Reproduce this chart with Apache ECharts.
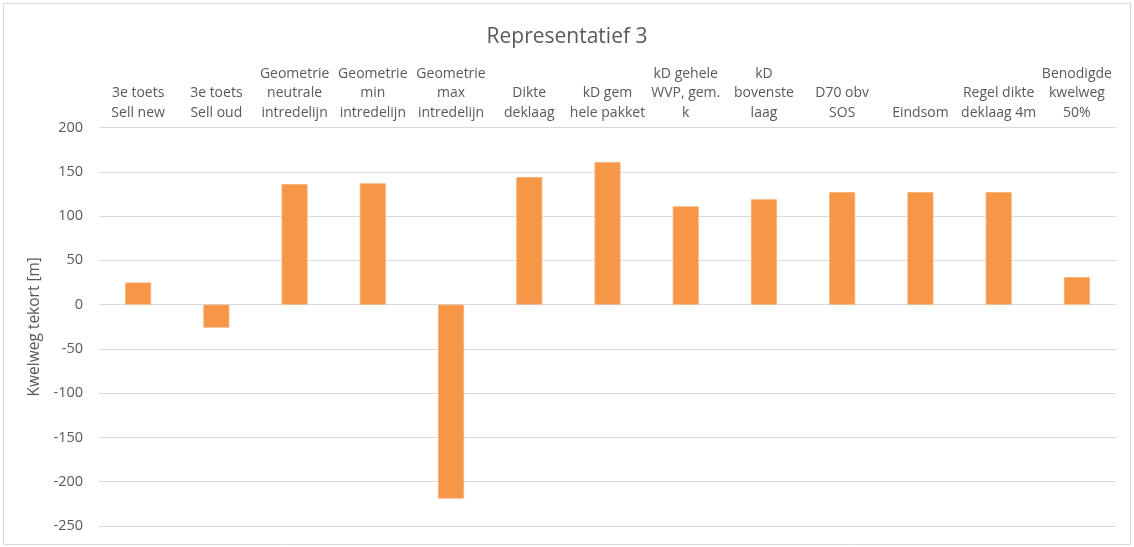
<!DOCTYPE html>
<html>
<head>
<meta charset="utf-8">
<script src="https://cdn.jsdelivr.net/npm/echarts@6/dist/echarts.min.js"></script>
<style>
  html, body { margin: 0; padding: 0; background: #fff; }
  #chart { width: 1134px; height: 547px; }
</style>
</head>
<body>
<div id="chart"></div>
<script>
// Categories (line breaks as shown in the axis labels)
const categories = [
  '3e toets\nSell new',
  '3e toets\nSell oud',
  'Geometrie\nneutrale\nintredelijn',
  'Geometrie\nmin\nintredelijn',
  'Geometrie\nmax\nintredelijn',
  'Dikte\ndeklaag',
  'kD gem\nhele pakket',
  'kD gehele\nWVP, gem.\nk',
  'kD\nbovenste\nlaag',
  'D70 obv\nSOS',
  'Eindsom',
  'Regel dikte\ndeklaag 4m',
  'Benodigde\nkwelweg\n50%'
];

// Kwelweg tekort per variant [m]
const tekort = [25, -26, 136, 137, -219, 144, 161, 111, 119, 127, 127, 127, 31];

const titleText = 'Representatief 3';
const yAxisName = 'Kwelweg tekort [m]';

const textColor = '#595959';
const fontFamily = '"Open Sans", "Noto Sans", sans-serif';

const chart = echarts.init(document.getElementById('chart'), null, { renderer: 'canvas' });

chart.setOption({
  animation: false,
  backgroundColor: '#ffffff',
  title: {
    text: titleText,
    left: 'center',
    top: 22,
    textStyle: { color: textColor, fontFamily, fontSize: 21, fontWeight: 'normal' }
  },
  graphic: [{
    type: 'rect',
    shape: { x: 3.5, y: 3.5, width: 1127, height: 541 },
    style: { fill: 'none', stroke: '#d9d9d9', lineWidth: 1 },
    silent: true
  }],
  grid: { left: 99, right: 18, top: 127.5, bottom: 21 },
  xAxis: {
    type: 'category',
    position: 'top',
    data: categories,
    axisLine: { show: false },
    axisTick: { show: false },
    axisLabel: {
      interval: 0,
      margin: 5,
      color: textColor,
      fontFamily,
      fontSize: 14,
      lineHeight: 19.5
    }
  },
  yAxis: {
    type: 'value',
    min: -250,
    max: 200,
    interval: 50,
    name: yAxisName,
    nameLocation: 'middle',
    nameGap: 50,
    nameTextStyle: { color: textColor, fontFamily, fontSize: 15.5 },
    axisLine: { show: false },
    axisTick: { show: false },
    axisLabel: { color: textColor, fontFamily, fontSize: 14.5, margin: 16 },
    splitLine: { lineStyle: { color: '#d9d9d9', width: 1.2 } }
  },
  series: [{
    type: 'bar',
    data: tekort,
    barWidth: 26,
    itemStyle: { color: '#F79646', borderColor: '#f9ae77', borderWidth: 0.8 }
  }]
});
</script>
</body>
</html>
